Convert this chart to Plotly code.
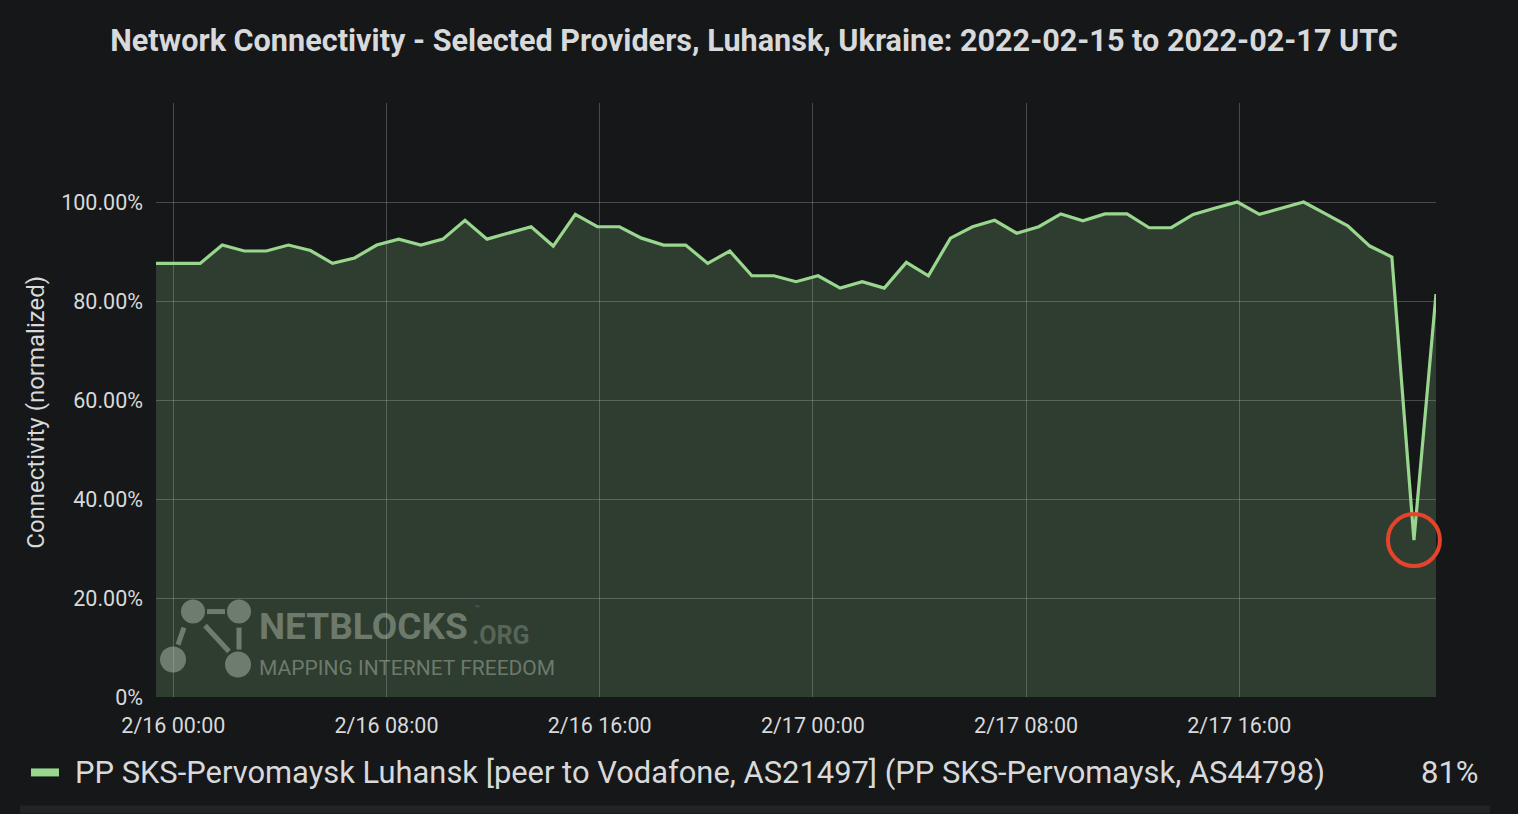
import pandas as pd
import plotly.graph_objects as go

# ---------------- data ----------------
title_text = "Network Connectivity - Selected Providers, Luhansk, Ukraine: 2022-02-15 to 2022-02-17 UTC"
series_name = "PP SKS-Pervomaysk Luhansk [peer to Vodafone, AS21497] (PP SKS-Pervomaysk, AS44798)"
y_title = "Connectivity (normalized)"

times = pd.date_range(start="2022-02-15 23:21", end="2022-02-17 23:23", periods=59)
connectivity = [
    87.6, 87.6, 87.6, 91.3, 90.1, 90.1, 91.3, 90.2, 87.6, 88.7,
    91.3, 92.5, 91.3, 92.5, 96.3, 92.5, 93.8, 95.0, 91.1, 97.5,
    95.0, 95.0, 92.7, 91.3, 91.3, 87.6, 90.1, 85.1, 85.1, 83.9,
    85.1, 82.6, 83.9, 82.6, 87.8, 85.1, 92.7, 95.0, 96.3, 93.7,
    95.0, 97.6, 96.2, 97.6, 97.6, 94.8, 94.8, 97.5, 98.8, 100.0,
    97.5, 98.8, 100.0, 97.6, 95.2, 91.1, 88.9, 31.7, 81.4,
]
y_tickvals = [0, 20, 40, 60, 80, 100, 120]
y_ticktext = ["0%", "20.00%", "40.00%", "60.00%", "80.00%", "100.00%", ""]
x_tick0 = "2022-02-16 00:00"

# ---------------- style ----------------
W, H = 1518, 814
PL, PR, PT, PB = 156, 1436, 103, 697.5
BG = "#161719"
TXT = "#d8d9da"
LINE = "#99d68e"
FILL = "rgba(150,215,140,0.20)"
GRID = "rgba(255,255,255,0.22)"
RED = "#e5432a"


def px_x(px):
    return (px - PL) / (PR - PL)


def px_y(py):
    return (PB - py) / (PB - PT)


fig = go.Figure()
fig.add_trace(go.Scatter(
    x=times, y=connectivity, mode="lines", name=series_name,
    line=dict(color=LINE, width=3.2), fill="tozeroy", fillcolor=FILL,
    showlegend=False, hoverinfo="skip",
))

# highlight the lowest point
dip = connectivity.index(min(connectivity))
fig.add_trace(go.Scatter(
    x=[times[dip]], y=[connectivity[dip]], mode="markers", cliponaxis=False,
    marker=dict(symbol="circle-open", size=52, color=RED, line=dict(width=4, color=RED)),
    showlegend=False, hoverinfo="skip",
))

shapes = []
annotations = []

# watermark logo
wm = "rgba(190,200,185,0.45)"
wm2 = "rgba(190,200,185,0.30)"
for cx, cy, r in [(193, 612, 12), (239, 612, 12), (173, 660, 13), (238, 665, 13)]:
    shapes.append(dict(type="circle", xref="paper", yref="paper",
                       x0=px_x(cx - r), x1=px_x(cx + r), y0=px_y(cy + r), y1=px_y(cy - r),
                       fillcolor=wm, line=dict(width=0)))
for x0, y0, x1, y1 in [(207, 612, 225, 612), (184, 628, 178, 645), (205, 626, 229, 652), (239, 628, 239, 650)]:
    shapes.append(dict(type="line", xref="paper", yref="paper",
                       x0=px_x(x0), x1=px_x(x1), y0=px_y(y0), y1=px_y(y1),
                       line=dict(color=wm, width=5)))
annotations.append(dict(text="<b>NETBLOCKS</b>", xref="paper", yref="paper", x=px_x(257), y=px_y(650),
                        xanchor="left", yanchor="bottom", showarrow=False,
                        font=dict(family="Roboto", size=37, color=wm)))
annotations.append(dict(text="<b>.ORG</b>", xref="paper", yref="paper", x=px_x(470), y=px_y(652),
                        xanchor="left", yanchor="bottom", showarrow=False,
                        font=dict(family="Roboto", size=25, color=wm2)))
annotations.append(dict(text="™", xref="paper", yref="paper", x=px_x(472), y=px_y(616),
                        xanchor="left", yanchor="bottom", showarrow=False,
                        font=dict(family="Roboto", size=10, color=wm2)))
annotations.append(dict(text="MAPPING INTERNET FREEDOM", xref="paper", yref="paper", x=px_x(257), y=px_y(682),
                        xanchor="left", yanchor="bottom", showarrow=False,
                        font=dict(family="Roboto", size=21, color=wm)))

# y-axis title
annotations.append(dict(text=y_title, xref="paper", yref="paper", x=px_x(36), y=px_y(413),
                        xanchor="center", yanchor="middle", textangle=-90, showarrow=False,
                        font=dict(family="Roboto", size=24, color=TXT)))

# legend row
shapes.append(dict(type="line", xref="paper", yref="paper",
                   x0=px_x(31), x1=px_x(59), y0=px_y(773), y1=px_y(773),
                   line=dict(color=LINE, width=8)))
annotations.append(dict(text=series_name, xref="paper", yref="paper", x=px_x(73), y=px_y(773),
                        xanchor="left", yanchor="middle", showarrow=False,
                        font=dict(family="Roboto", size=30.9, color=TXT)))
annotations.append(dict(text=f"{connectivity[-1]:.0f}%", xref="paper", yref="paper", x=px_x(1481), y=px_y(773),
                        xanchor="right", yanchor="middle", showarrow=False,
                        font=dict(family="Roboto", size=31, color=TXT)))
# bottom strip
shapes.append(dict(type="rect", xref="paper", yref="paper",
                   x0=px_x(20), x1=px_x(1490), y0=px_y(814), y1=px_y(806),
                   fillcolor="#222327", line=dict(width=0), layer="below"))

fig.update_layout(
    width=W, height=H,
    paper_bgcolor=BG, plot_bgcolor=BG,
    margin=dict(l=PL, r=W - PR, t=PT, b=H - PB, pad=0),
    title=dict(text=f"<b>{title_text}</b>", x=754 / W, xref="container", xanchor="center",
               y=1 - 40 / H, yref="container", yanchor="middle",
               font=dict(family="Roboto", size=30.6, color=TXT)),
    font=dict(family="Roboto", color=TXT),
    shapes=shapes, annotations=annotations,
    showlegend=False,
)
fig.update_xaxes(
    type="date", range=[times[0], times[-1]],
    tick0=x_tick0, dtick=8 * 3600 * 1000, tickformat="%-m/%d %H:%M",
    showgrid=True, gridcolor=GRID, gridwidth=1, zeroline=False, showline=False,
    ticks="", tickfont=dict(family="Roboto", size=21.5, color=TXT), ticklabelstandoff=13,
)
fig.update_yaxes(
    range=[0, 120], tickvals=y_tickvals, ticktext=y_ticktext,
    showgrid=True, gridcolor=GRID, gridwidth=1, zeroline=False, showline=False,
    ticks="", tickfont=dict(family="Roboto", size=21.5, color=TXT), ticklabelstandoff=12,
)

fig.write_html("out.html", config={"displayModeBar": False},
               post_script="document.body.style.margin='0';document.body.style.background='#161719';")
